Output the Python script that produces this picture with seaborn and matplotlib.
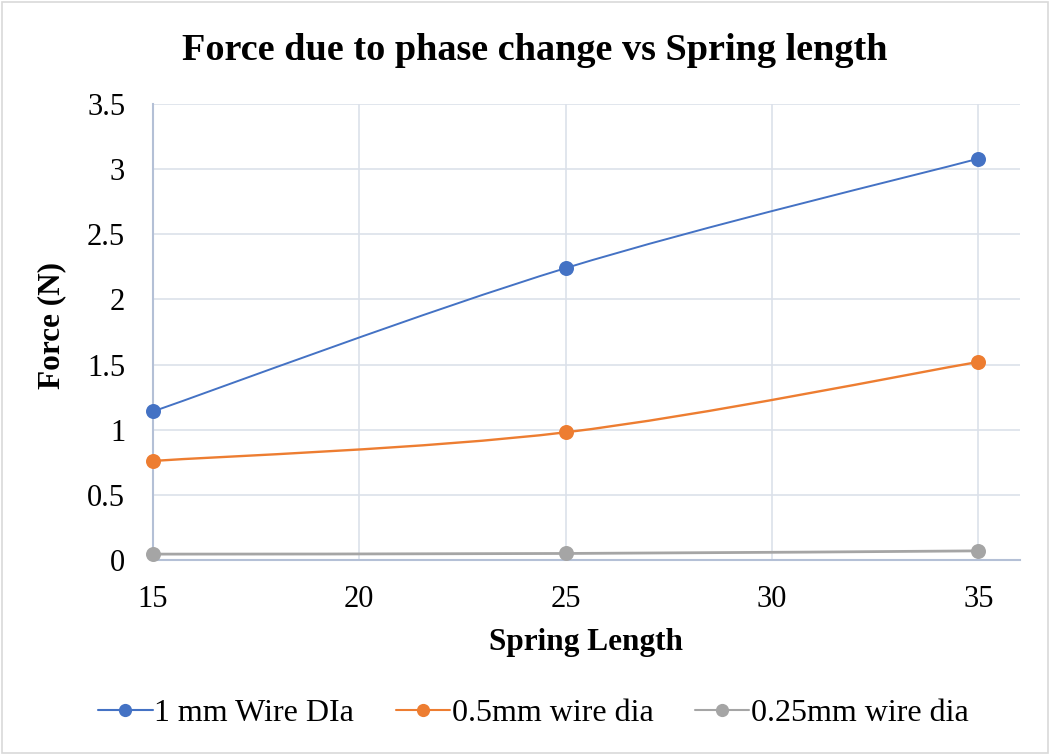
import numpy as np
import pandas as pd
import seaborn as sns
import matplotlib
matplotlib.use("Agg")
import matplotlib.pyplot as plt
from matplotlib.path import Path
from matplotlib.patches import PathPatch, Rectangle
from matplotlib.lines import Line2D

spring_length = [15, 25, 35]
force_1mm = [1.14, 2.24, 3.08]
force_05mm = [0.76, 0.98, 1.52]
force_025mm = [0.045, 0.05, 0.07]
series_names = ["1 mm Wire DIa", "0.5mm wire dia", "0.25mm wire dia"]
colors = ["#4472C4", "#ED7D31", "#A5A5A5"]

df = pd.DataFrame({
    "Spring Length": spring_length * 3,
    "Force": force_1mm + force_05mm + force_025mm,
    "Series": sum([[n] * len(spring_length) for n in series_names], []),
})

sns.set_theme(style="white")
plt.rcParams["font.family"] = ["Liberation Serif", "DejaVu Serif"]
plt.rcParams["text.color"] = "black"
plt.rcParams["axes.labelcolor"] = "black"

fig = plt.figure(figsize=(10.5, 7.55), dpi=100)
ax = fig.add_axes([0.1457, 0.2583, 0.8253, 0.604])

sns.lineplot(data=df, x="Spring Length", y="Force", hue="Series",
             palette=colors, marker="o", markersize=10.8, markeredgewidth=0,
             linestyle="none", ax=ax, legend=False, zorder=4, clip_on=False)

def smooth_path(xs, ys):
    pts = np.column_stack([xs, ys]).astype(float)
    n = len(pts)
    verts = [pts[0]]
    codes = [Path.MOVETO]
    for i in range(n - 1):
        p0 = pts[i - 1] if i > 0 else pts[i]
        p1 = pts[i]
        p2 = pts[i + 1]
        p3 = pts[i + 2] if i + 2 < n else pts[i + 1]
        c1 = p1 + (p2 - p0) / 6.0
        c2 = p2 - (p3 - p1) / 6.0
        verts += [c1, c2, p2]
        codes += [Path.CURVE4] * 3
    return Path(verts, codes)

lws = [1.4, 1.7, 2.0]
for vals, c, lw in zip([force_1mm, force_05mm, force_025mm], colors, lws):
    ax.add_patch(PathPatch(smooth_path(spring_length, vals), facecolor="none",
                           edgecolor=c, lw=lw, zorder=3))

ax.set_xlim(15, 36)
ax.set_ylim(0, 3.5)
ax.set_xticks([15, 20, 25, 30, 35])
ax.set_yticks(np.arange(0, 3.51, 0.5))
ax.set_yticklabels(["0", "0.5", "1", "1.5", "2", "2.5", "3", "3.5"])
ax.grid(True, color="#DCE1EA", lw=1.2)
ax.set_axisbelow(True)
for s in ["top", "right"]:
    ax.spines[s].set_visible(False)
for s in ["left", "bottom"]:
    ax.spines[s].set_color("#B4C0D6")
    ax.spines[s].set_linewidth(1.5)
ax.tick_params(axis="both", length=0, labelsize=22, colors="black")
ax.tick_params(axis="y", pad=20)
ax.tick_params(axis="x", pad=18)

ax.set_xlabel("Spring Length", fontsize=22.5, fontweight="bold")
ax.xaxis.set_label_coords((586 - 153) / 867, (560 - 643) / 456)
ax.xaxis.label.set_va("center")
ax.set_ylabel("Force (N)", fontsize=22.5, fontweight="bold")
ax.yaxis.set_label_coords((52 - 153) / 867, 0.515)
ax.yaxis.label.set_va("center")

fig.text(535 / 1050, 1 - 50 / 755, "Force due to phase change vs Spring length",
         fontsize=27.5, fontweight="bold", ha="center", va="center")

handles = [Line2D([0], [0], color=c, lw=1.5, marker="o", markersize=9.5,
                  markeredgewidth=0) for c in colors]
fig.legend(handles, series_names, loc="center", bbox_to_anchor=(0.508, 1 - 713 / 755),
           ncol=3, frameon=False, fontsize=23, handlelength=1.7,
           handletextpad=0.05, columnspacing=1.3)

fig.patches.append(Rectangle((0.002, 0.002), 0.996, 0.996, transform=fig.transFigure,
                             fill=False, edgecolor="#D9D9D9", lw=1.2))

fig.savefig("out.png", dpi=100)
